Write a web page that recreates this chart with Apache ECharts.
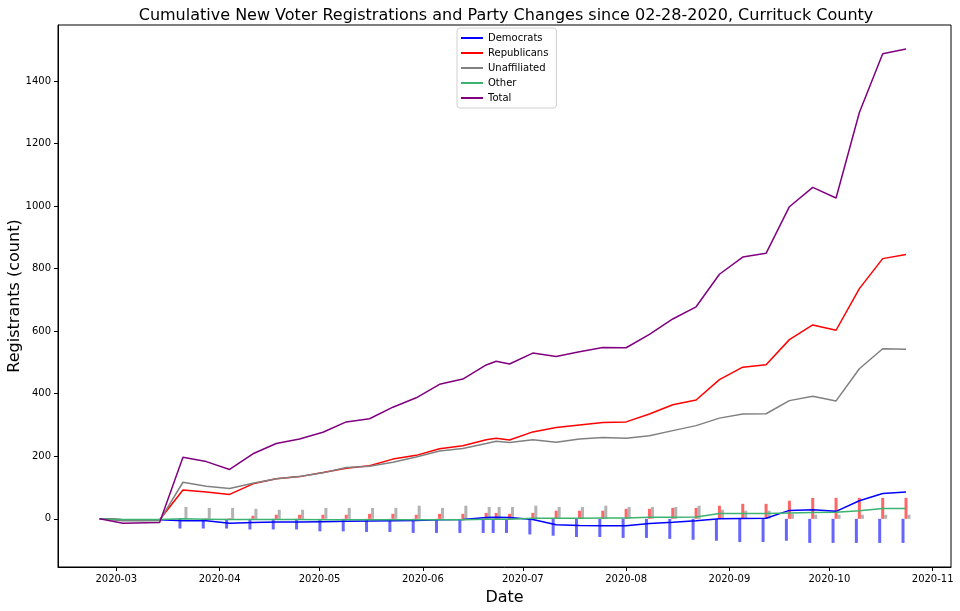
<!DOCTYPE html>
<html>
<head>
<meta charset="utf-8">
<script src="https://cdn.jsdelivr.net/npm/echarts@6/dist/echarts.min.js"></script>
<style>html,body{margin:0;padding:0;background:#fff;}#chart{width:960px;height:611px;}</style>
</head>
<body>
<div id="chart"></div>
<script>
const dates = ['2020-02-25','2020-03-03','2020-03-14','2020-03-21','2020-03-28','2020-04-04','2020-04-11','2020-04-18','2020-04-25','2020-05-02','2020-05-09','2020-05-16','2020-05-23','2020-05-30','2020-06-06','2020-06-13','2020-06-20','2020-06-23','2020-06-27','2020-07-04','2020-07-11','2020-07-18','2020-07-25','2020-08-01','2020-08-08','2020-08-15','2020-08-22','2020-08-29','2020-09-05','2020-09-12','2020-09-19','2020-09-26','2020-10-03','2020-10-10','2020-10-17','2020-10-24'];

const democrats = [0,-3,-3,-6,-6,-14,-12,-10,-10,-9,-8,-7,-6,-5,-3,-2,4,5,4,-2,-19,-21,-22,-22,-15,-11,-6,0,1,2,27,29,24,58,81,86];
const republicans = [0,-3,-3,92,86,78,112,128,135,148,162,170,191,203,224,234,253,258,252,278,292,300,308,310,335,365,380,445,485,493,573,620,603,736,832,845];
const unaffiliated = [0,-6,-6,117,104,97,114,128,135,147,164,168,181,198,217,225,241,248,244,253,245,255,260,258,266,282,298,322,335,336,378,392,377,480,544,542];
const other = [0,-2,-2,0,-1,-2,-2,-2,-2,-3,-3,-3,-3,-3,-3,-3,-1,-1,-1,2,2,2,3,3,5,5,6,17,17,17,19,20,21,26,33,33];
const total = [0,-14,-12,197,183,158,208,241,255,277,310,320,357,387,430,447,492,504,495,530,519,534,548,547,590,639,678,782,837,849,998,1060,1026,1299,1487,1502];

// party change bars (per snapshot)
const demChange = [null,null,null,-31,-31,-31,-34,-34,-34,-40,-40,-42,-42,-45,-45,-45,-45,-45,-45,-50,-54,-58,-58,-61,-61,-64,-67,-70,-74,-74,-70,-77,-77,-77,-77,-77];
const repChange = [null,null,null,2,2,2,10,13,13,13,13,16,16,13,16,16,19,19,16,19,26,26,26,32,32,35,35,42,48,48,58,67,67,67,67,67];
const unaChange = [null,null,null,38,35,35,32,29,29,35,35,35,35,42,35,42,38,38,38,42,38,38,42,38,38,38,42,29,26,26,16,13,13,13,13,13];

const xTickLabels = ['2020-03','2020-04','2020-05','2020-06','2020-07','2020-08','2020-09','2020-10','2020-11'];
const yTicks = [0,200,400,600,800,1000,1200,1400];

const seriesNames = ['Democrats','Republicans','Unaffiliated','Other','Total'];
const lineColors = ['#0000ff','#ff0000','#808080','#3cb371','#800080'];
const lineValues = [democrats, republicans, unaffiliated, other, total];

const dayTs = s => { const p = s.split('-'); return new Date(+p[0], +p[1]-1, p[2] ? +p[2] : 1).getTime(); };
const xTickValues = xTickLabels.map(dayTs);
const dateTs = dates.map(dayTs);
const pair = arr => dateTs.map((d, i) => [d, arr[i]]);
const FONT = 'DejaVu Sans';

const series = [];
const barDefs = [['Democrats change', demChange, 'rgba(0,0,255,0.6)'],
                 ['Republicans change', repChange, 'rgba(255,0,0,0.6)'],
                 ['Unaffiliated change', unaChange, 'rgba(128,128,128,0.6)']];
barDefs.forEach(b => series.push({
  name: b[0], type: 'bar', data: pair(b[1]), barWidth: 3, barGap: '0%',
  itemStyle: { color: b[2] }, z: 1, silent: true
}));
seriesNames.forEach((n, i) => series.push({
  name: n, type: 'line', data: pair(lineValues[i]), showSymbol: false, symbol: 'none',
  color: lineColors[i], lineStyle: { color: lineColors[i], width: 1.5 }, z: 3 + i
}));

const chart = echarts.init(document.getElementById('chart'), null, { renderer: 'canvas' });
chart.setOption({
  animation: false,
  backgroundColor: '#fff',
  title: {
    text: 'Cumulative New Voter Registrations and Party Changes since 02-28-2020, Currituck County',
    left: 501, top: 3, textAlign: 'center',
    textStyle: { fontFamily: FONT, fontSize: 16, fontWeight: 'normal', color: '#000' }
  },
  legend: {
    data: seriesNames, orient: 'vertical', left: 457, top: 28,
    icon: 'rect', itemWidth: 22, itemHeight: 2, itemGap: 3,
    padding: [4, 8, 4, 4],
    borderColor: '#d0d0d0', borderWidth: 1, borderRadius: 3,
    textStyle: { fontFamily: FONT, fontSize: 10, color: '#000', lineHeight: 12 }
  },
  grid: { left: 58, right: 9, top: 25, bottom: 44, containLabel: false, outerBoundsMode: 'none',
          show: true, borderColor: '#000', borderWidth: 1, backgroundColor: 'transparent' },
  xAxis: {
    type: 'value',
    min: new Date(2020, 1, 12, 12).getTime(),
    max: new Date(2020, 10, 6, 12).getTime(),
    name: 'Date', nameLocation: 'middle', nameGap: 23, nameMoveOverlap: false,
    nameTextStyle: { fontFamily: FONT, fontSize: 16, color: '#000' },
    axisLine: { show: true, onZero: false, lineStyle: { color: '#000', width: 1 } },
    axisTick: { show: true, length: 4, customValues: xTickValues, lineStyle: { color: '#000' } },
    axisLabel: {
      customValues: xTickValues, margin: 7, fontFamily: FONT, fontSize: 10, color: '#000',
      formatter: v => { const i = xTickValues.indexOf(v); return i >= 0 ? xTickLabels[i] : ''; }
    },
    splitLine: { show: false }
  },
  yAxis: {
    type: 'value', min: -154, max: 1579,
    name: 'Registrants (count)', nameLocation: 'middle', nameGap: 35, nameRotate: 90, nameMoveOverlap: false,
    nameTextStyle: { fontFamily: FONT, fontSize: 16, color: '#000' },
    axisLine: { show: true, onZero: false, lineStyle: { color: '#000', width: 1 } },
    axisTick: { show: true, length: 4, customValues: yTicks, lineStyle: { color: '#000' } },
    axisLabel: { customValues: yTicks, margin: 7, fontFamily: FONT, fontSize: 10, color: '#000',
                 formatter: v => String(v) },
    splitLine: { show: false }
  },
  series: series
});
</script>
</body>
</html>
